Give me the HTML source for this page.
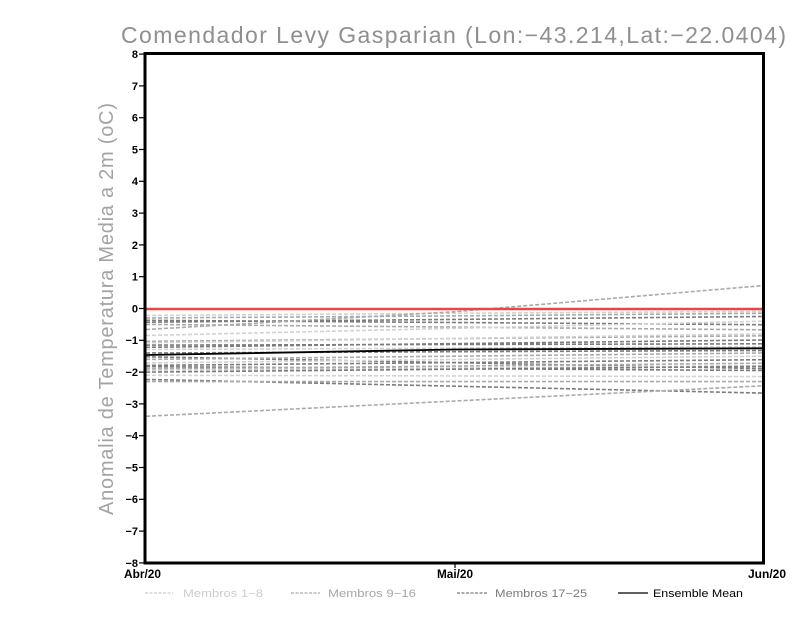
<!DOCTYPE html>
<html><head><meta charset="utf-8"><style>
html,body{margin:0;padding:0;background:#fff;}
svg{display:block;}
</style></head><body>
<svg width="800" height="618" viewBox="0 0 800 618" xmlns="http://www.w3.org/2000/svg">
<rect width="800" height="618" fill="#fff"/>
<!-- title -->
<text x="121" y="43" font-family="Liberation Sans, sans-serif" font-size="23" fill="#8f8f8f" textLength="665" lengthAdjust="spacing">Comendador Levy Gasparian (Lon:−43.214,Lat:−22.0404)</text>
<!-- y label -->
<text transform="translate(113,515) rotate(-90)" x="0" y="0" font-family="Liberation Sans, sans-serif" font-size="20" fill="#a3a3a3" textLength="412" lengthAdjust="spacing">Anomalia de Temperatura Media a 2m (oC)</text>

<!-- members -->
<g fill="none" stroke-width="1.6" stroke-dasharray="4,2">
<polyline stroke="#d2d2d2" points="146,315.5 455,313.3 763,311.4"/>
<polyline stroke="#aaaaaa" points="146,318.0 455,315.9 763,313.3"/>
<polyline stroke="#7c7c7c" points="146,320.3 455,322.5 763,324.7"/>
<polyline stroke="#7c7c7c" points="146,322.2 455,319.4 763,316.5"/>
<polyline stroke="#aaaaaa" points="146,324.4 455,327.1 763,329.8"/>
<polyline stroke="#aaaaaa" points="146,329.5 455,311.7 763,285.6"/>
<polyline stroke="#d2d2d2" points="146,335.5 455,328.3 763,321.2"/>
<polyline stroke="#aaaaaa" points="146,341.3 455,338.6 763,335.8"/>
<polyline stroke="#d2d2d2" points="146,342.8 455,338.4 763,333.9"/>
<polyline stroke="#7c7c7c" points="146,345.1 455,344.5 763,343.8"/>
<polyline stroke="#7c7c7c" points="146,347.3 455,343.6 763,340.0"/>
<polyline stroke="#d2d2d2" points="146,349.5 455,348.1 763,346.7"/>
<polyline stroke="#7c7c7c" points="146,353.0 455,351.7 763,350.5"/>
<polyline stroke="#7c7c7c" points="146,356.8 455,362.7 763,368.6"/>
<polyline stroke="#aaaaaa" points="146,359.4 455,356.2 763,353.0"/>
<polyline stroke="#d2d2d2" points="146,362.9 455,359.5 763,356.2"/>
<polyline stroke="#7c7c7c" points="146,365.4 455,362.6 763,359.7"/>
<polyline stroke="#7c7c7c" points="146,366.7 455,368.6 763,370.5"/>
<polyline stroke="#aaaaaa" points="146,368.9 455,366.1 763,363.2"/>
<polyline stroke="#d2d2d2" points="146,370.2 455,368.0 763,365.7"/>
<polyline stroke="#7c7c7c" points="146,372.1 455,369.2 763,366.4"/>
<polyline stroke="#d2d2d2" points="146,375.3 455,375.9 763,376.6"/>
<polyline stroke="#7c7c7c" points="146,379.4 455,386.2 763,393.1"/>
<polyline stroke="#aaaaaa" points="146,381.6 455,381.6 763,381.6"/>
<polyline stroke="#aaaaaa" points="146,416.3 455,401.0 763,385.8"/>
</g>
<!-- ensemble mean -->
<polyline fill="none" stroke="#000" stroke-width="1.8" points="146,355 455,349.5 763,348.3"/>
<!-- zero line -->
<line x1="146" y1="309" x2="763" y2="309" stroke="#ee4444" stroke-width="2.4"/>

<!-- frame -->
<rect x="145" y="53.5" width="618.5" height="509.5" fill="none" stroke="#000" stroke-width="3"/>

<!-- y ticks -->
<g stroke="#000" stroke-width="1.2">
<line x1="139" y1="54.1" x2="145" y2="54.1"/>
<line x1="139" y1="85.9" x2="145" y2="85.9"/>
<line x1="139" y1="117.7" x2="145" y2="117.7"/>
<line x1="139" y1="149.5" x2="145" y2="149.5"/>
<line x1="139" y1="181.3" x2="145" y2="181.3"/>
<line x1="139" y1="213.1" x2="145" y2="213.1"/>
<line x1="139" y1="244.9" x2="145" y2="244.9"/>
<line x1="139" y1="276.7" x2="145" y2="276.7"/>
<line x1="139" y1="308.5" x2="145" y2="308.5"/>
<line x1="139" y1="340.3" x2="145" y2="340.3"/>
<line x1="139" y1="372.1" x2="145" y2="372.1"/>
<line x1="139" y1="403.9" x2="145" y2="403.9"/>
<line x1="139" y1="435.7" x2="145" y2="435.7"/>
<line x1="139" y1="467.5" x2="145" y2="467.5"/>
<line x1="139" y1="499.3" x2="145" y2="499.3"/>
<line x1="139" y1="531.1" x2="145" y2="531.1"/>
<line x1="139" y1="562.9" x2="145" y2="562.9"/>
<line x1="455" y1="563" x2="455" y2="568"/>
</g>
<g font-family="Liberation Sans, sans-serif" font-size="11" font-weight="bold" fill="#000" text-anchor="end">
<text x="138" y="58">8</text>
<text x="138" y="89.8">7</text>
<text x="138" y="121.6">6</text>
<text x="138" y="153.4">5</text>
<text x="138" y="185.2">4</text>
<text x="138" y="217">3</text>
<text x="138" y="248.8">2</text>
<text x="138" y="280.6">1</text>
<text x="138" y="312.4">0</text>
<text x="138" y="344.2">−1</text>
<text x="138" y="376">−2</text>
<text x="138" y="407.8">−3</text>
<text x="138" y="439.6">−4</text>
<text x="138" y="471.4">−5</text>
<text x="138" y="503.2">−6</text>
<text x="138" y="535">−7</text>
<text x="138" y="566.8">−8</text>
</g>
<!-- x labels -->
<g font-family="Liberation Sans, sans-serif" font-size="12" font-weight="bold" fill="#000">
<text x="124" y="578" textLength="37" lengthAdjust="spacingAndGlyphs">Abr/20</text>
<text x="437" y="578" textLength="36" lengthAdjust="spacingAndGlyphs">Mai/20</text>
<text x="748" y="578" textLength="38" lengthAdjust="spacingAndGlyphs">Jun/20</text>
</g>

<!-- legend -->
<g stroke-width="1.2" fill="none">
<line x1="145" y1="593" x2="173" y2="593" stroke="#cccccc" stroke-dasharray="3,1.5"/>
<line x1="291" y1="593" x2="320" y2="593" stroke="#aaaaaa" stroke-dasharray="3,1.5"/>
<line x1="457" y1="593" x2="487" y2="593" stroke="#7a7a7a" stroke-dasharray="3,1.5"/>
<line x1="618" y1="593" x2="648" y2="593" stroke="#000"/>
</g>
<g font-family="Liberation Sans, sans-serif" font-size="11">
<text x="183" y="597" fill="#cccccc" textLength="80" lengthAdjust="spacingAndGlyphs">Membros 1−8</text>
<text x="328" y="597" fill="#a6a6a6" textLength="88" lengthAdjust="spacingAndGlyphs">Membros 9−16</text>
<text x="495" y="597" fill="#7a7a7a" textLength="92" lengthAdjust="spacingAndGlyphs">Membros 17−25</text>
<text x="653" y="597" fill="#000" textLength="90" lengthAdjust="spacingAndGlyphs">Ensemble Mean</text>
</g>
</svg>
</body></html>
